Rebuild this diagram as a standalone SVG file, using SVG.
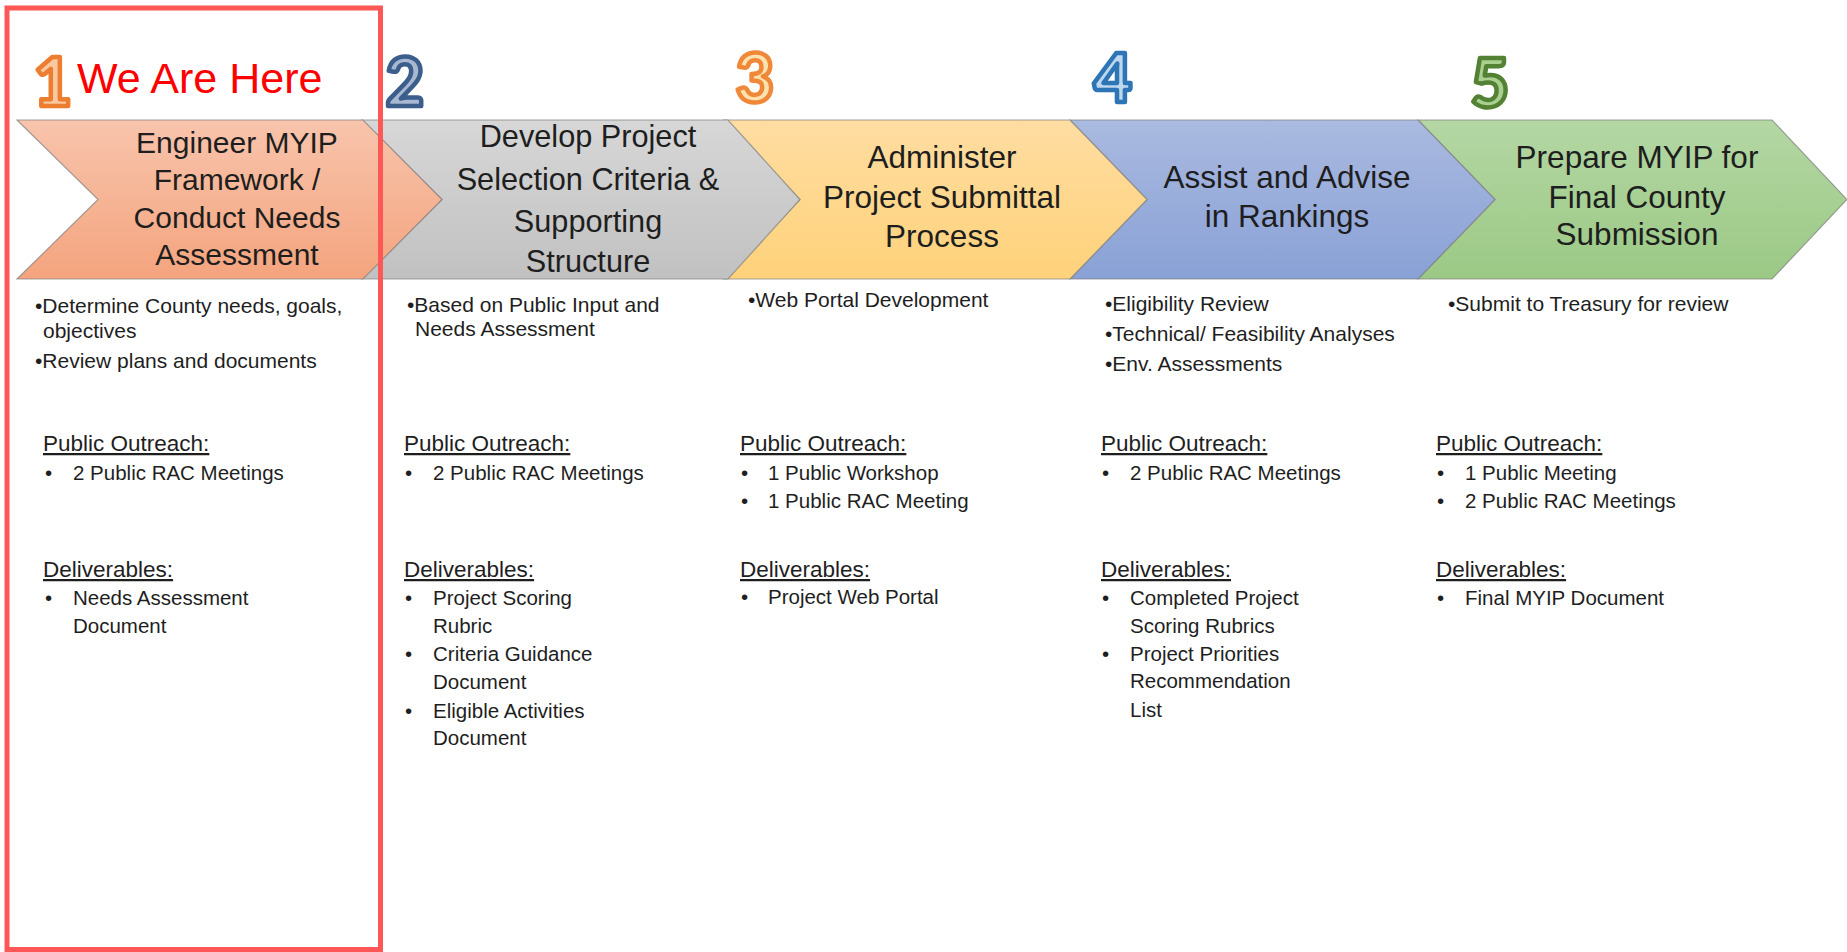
<svg xmlns="http://www.w3.org/2000/svg" width="1847" height="952" viewBox="0 0 1847 952">
<defs>
<linearGradient id="g1" x1="0" y1="0" x2="0" y2="1"><stop offset="0" stop-color="#F8C4AC"/><stop offset="1" stop-color="#F4A47E"/></linearGradient>
<linearGradient id="g2" x1="0" y1="0" x2="0" y2="1"><stop offset="0" stop-color="#D7D7D7"/><stop offset="1" stop-color="#C1C1C1"/></linearGradient>
<linearGradient id="g3" x1="0" y1="0" x2="0" y2="1"><stop offset="0" stop-color="#FFDDA2"/><stop offset="1" stop-color="#FFD27A"/></linearGradient>
<linearGradient id="g4" x1="0" y1="0" x2="0" y2="1"><stop offset="0" stop-color="#AABAE0"/><stop offset="1" stop-color="#89A1D6"/></linearGradient>
<linearGradient id="g5" x1="0" y1="0" x2="0" y2="1"><stop offset="0" stop-color="#B4D7A4"/><stop offset="1" stop-color="#9BC985"/></linearGradient>
</defs>
<style>
.chev{stroke:#7f7f7f;stroke-opacity:0.7;stroke-width:1.2}
.ct{font-family:"Liberation Sans",Arial,sans-serif;fill:#1e1e1e;text-anchor:middle}
.num{font-family:Lato,"Liberation Sans",sans-serif;font-weight:900;font-size:66px;text-anchor:middle;stroke-width:4.5;stroke-linejoin:round}
.top{font-family:"Liberation Sans",Arial,sans-serif;font-size:21px;fill:#1e1e1e}
.hd{font-family:"Liberation Sans",Arial,sans-serif;font-size:22.5px;fill:#1e1e1e;text-decoration:underline}
.it{font-family:"Liberation Sans",Arial,sans-serif;font-size:20.5px;fill:#1e1e1e}
</style>
<rect width="1847" height="952" fill="#FFFFFF"/>

<g id="step5">
<polygon class="chev" fill="url(#g5)" points="1418,120 1772,120 1847,199.5 1772,279 1418,279 1495,199.5"/>
<text class="ct" font-size="31.5" x="1637"><tspan x="1637" y="168">Prepare MYIP for</tspan><tspan x="1637" y="208">Final County</tspan><tspan x="1637" y="245">Submission</tspan></text>
<text class="num" x="1490" y="106.5" fill="#A9D08E" stroke="#548235">5</text>
</g>
<g id="step4">
<polygon class="chev" fill="url(#g4)" points="1070,120 1418,120 1495,199.5 1418,279 1070,279 1147,199.5"/>
<text class="ct" font-size="31.5" x="1287"><tspan x="1287" y="188">Assist and Advise</tspan><tspan x="1287" y="227">in Rankings</tspan></text>
<text class="num" x="1113" y="101.5" fill="#BDD7EE" stroke="#2E75B6">4</text>
</g>
<g id="step3">
<polygon class="chev" fill="url(#g3)" points="724,120 1070,120 1147,199.5 1070,279 724,279 800,199.5"/>
<text class="ct" font-size="31.5" x="942"><tspan x="942" y="168">Administer</tspan><tspan x="942" y="208">Project Submittal</tspan><tspan x="942" y="247">Process</tspan></text>
<text class="num" x="755" y="101.5" fill="#FCE3AE" stroke="#F0883A">3</text>
</g>
<g id="step2">
<polygon class="chev" fill="url(#g2)" points="362,120 728,120 800,199.5 728,279 362,279 442,199.5"/>
<text class="ct" font-size="30.7" x="588"><tspan x="588" y="147">Develop Project</tspan><tspan x="588" y="190">Selection Criteria &amp;</tspan><tspan x="588" y="232">Supporting</tspan><tspan x="588" y="272">Structure</tspan></text>
<text class="num" x="405" y="106" fill="#A7B8D0" stroke="#3B5E8C">2</text>
</g>
<g id="step1">
<polygon class="chev" fill="url(#g1)" points="17,120 363,120 442,199.5 363,279 17,279 98,199.5"/>
<text class="ct" font-size="30" x="237"><tspan x="237" y="153">Engineer MYIP</tspan><tspan x="237" y="190">Framework /</tspan><tspan x="237" y="228">Conduct Needs</tspan><tspan x="237" y="265">Assessment</tspan></text>
<text class="num" x="53" y="105.5" fill="#F9C9A0" stroke="#ED7D31">1</text>
</g>

<g id="col1">
<text class="top" x="35" y="313">•Determine County needs, goals,</text>
<text class="top" x="43" y="338">objectives</text>
<text class="top" x="35" y="368">•Review plans and documents</text>
<text class="hd" x="43" y="451">Public Outreach:</text>
<text class="it" x="45" y="480">•</text><text class="it" x="73" y="480">2 Public RAC Meetings</text>
<text class="hd" x="43" y="577">Deliverables:</text>
<text class="it" x="45" y="605">•</text><text class="it" x="73" y="605">Needs Assessment</text>
<text class="it" x="73" y="633">Document</text>
</g>
<g id="col2">
<text class="top" x="407" y="312">•Based on Public Input and</text>
<text class="top" x="415" y="336">Needs Assessment</text>
<text class="hd" x="404" y="451">Public Outreach:</text>
<text class="it" x="405" y="480">•</text><text class="it" x="433" y="480">2 Public RAC Meetings</text>
<text class="hd" x="404" y="577">Deliverables:</text>
<text class="it" x="405" y="605">•</text><text class="it" x="433" y="605">Project Scoring</text>
<text class="it" x="433" y="633">Rubric</text>
<text class="it" x="405" y="661">•</text><text class="it" x="433" y="661">Criteria Guidance</text>
<text class="it" x="433" y="689">Document</text>
<text class="it" x="405" y="718">•</text><text class="it" x="433" y="718">Eligible Activities</text>
<text class="it" x="433" y="745">Document</text>
</g>
<g id="col3">
<text class="top" x="748" y="307">•Web Portal Development</text>
<text class="hd" x="740" y="451">Public Outreach:</text>
<text class="it" x="741" y="480">•</text><text class="it" x="768" y="480">1 Public Workshop</text>
<text class="it" x="741" y="508">•</text><text class="it" x="768" y="508">1 Public RAC Meeting</text>
<text class="hd" x="740" y="577">Deliverables:</text>
<text class="it" x="741" y="604">•</text><text class="it" x="768" y="604">Project Web Portal</text>
</g>
<g id="col4">
<text class="top" x="1105" y="311">•Eligibility Review</text>
<text class="top" x="1105" y="341">•Technical/ Feasibility Analyses</text>
<text class="top" x="1105" y="371">•Env. Assessments</text>
<text class="hd" x="1101" y="451">Public Outreach:</text>
<text class="it" x="1102" y="480">•</text><text class="it" x="1130" y="480">2 Public RAC Meetings</text>
<text class="hd" x="1101" y="577">Deliverables:</text>
<text class="it" x="1102" y="605">•</text><text class="it" x="1130" y="605">Completed Project</text>
<text class="it" x="1130" y="633">Scoring Rubrics</text>
<text class="it" x="1102" y="661">•</text><text class="it" x="1130" y="661">Project Priorities</text>
<text class="it" x="1130" y="688">Recommendation</text>
<text class="it" x="1130" y="717">List</text>
</g>
<g id="col5">
<text class="top" x="1448" y="311">•Submit to Treasury for review</text>
<text class="hd" x="1436" y="451">Public Outreach:</text>
<text class="it" x="1437" y="480">•</text><text class="it" x="1465" y="480">1 Public Meeting</text>
<text class="it" x="1437" y="508">•</text><text class="it" x="1465" y="508">2 Public RAC Meetings</text>
<text class="hd" x="1436" y="577">Deliverables:</text>
<text class="it" x="1437" y="605">•</text><text class="it" x="1465" y="605">Final MYIP Document</text>
</g>

<g id="connectors"></g>

<g id="highlight">
<rect x="7" y="8" width="373.5" height="941.5" fill="none" stroke="#FF5656" stroke-width="5"/>
<text x="77" y="93" font-family="'Liberation Sans',Arial,sans-serif" font-size="43" fill="#FF0000">We Are Here</text>
</g>
</svg>
